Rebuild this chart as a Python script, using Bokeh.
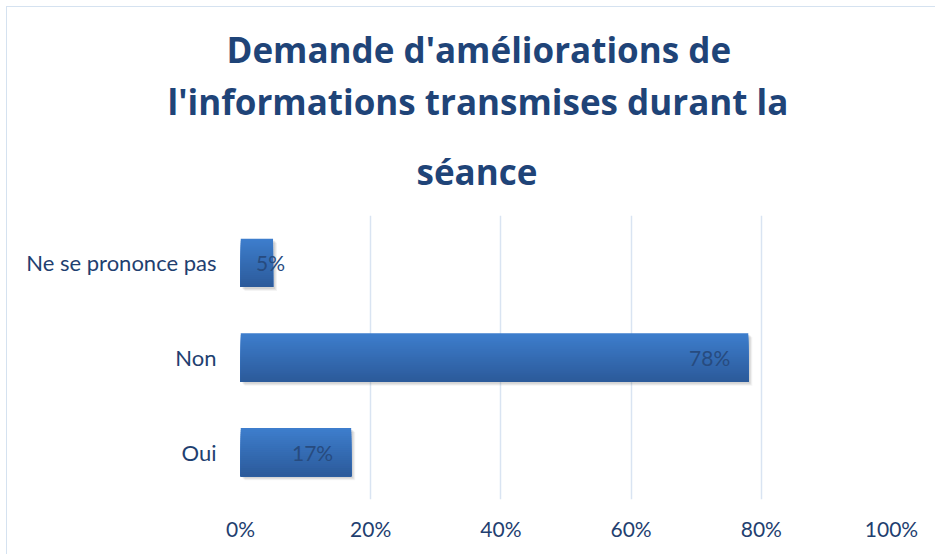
from bokeh.plotting import figure
from bokeh.models import ColumnDataSource, FactorRange, Range1d, NumeralTickFormatter, FixedTicker, Title
from bokeh.core.properties import value
from bokeh.transform import dodge
from bokeh.embed import file_html
from bokeh.resources import INLINE

categories = ["Oui", "Non", "Ne se prononce pas"]
values = [0.17, 0.78, 0.05]
labels = ["17%", "78%", "5%"]
x_ticks = [0, 0.2, 0.4, 0.6, 0.8, 1.0]
title_lines = ["Demande d'améliorations de", "l'informations transmises durant la", "séance"]

TXT = "#1f3f70"
FONT = "Lato"
BAR_H = 0.51
FRAME_H = 284.0   # px of the plot frame (3 bands)
FRAME_W = 651.0

p = figure(width=929, height=548, output_backend="svg", toolbar_location=None,
           y_range=FactorRange(*categories, range_padding=0),
           x_range=Range1d(0, 1),
           min_border_left=233, min_border_right=45, min_border_bottom=56, min_border_top=208)
p.styles = {"border-left": "1px solid #d5e2f0", "border-top": "1px solid #d5e2f0",
            "margin-left": "6px", "margin-top": "6px"}

# title lines, left aligned with offsets so that each line is centred on the chart area
standoffs = [42, 0, 6]            # nearest the plot first
offsets = [176, -73, -14]         # séance, l'informations..., Demande...
for line, so, off in zip(reversed(title_lines), standoffs, offsets):
    p.add_layout(Title(text=line, align="left", text_font="Open Sans", text_font_size="35px",
                       text_font_style="bold", text_color="#1f4478", standoff=so, offset=off),
                 "above")

band_px = FRAME_H / len(categories)
src = ColumnDataSource(dict(cat=categories, val=values, lab=labels,
                            off=[-18 if v > 0.1 else 12 for v in values]))

# soft shadow (bottom-right)
for dpx, a in [(4, 0.06), (3, 0.08), (2, 0.10)]:
    p.hbar(y=dodge("cat", -dpx / band_px, range=p.y_range), right=dodge("val", dpx / FRAME_W),
           left=dpx / FRAME_W, height=BAR_H, source=src,
           fill_color="#404040", fill_alpha=a, line_color=None)

# vertical gradient: overlapping strips, each from its top edge to the bar bottom
def hexmix(c1, c2, t_):
    a = [int(c1[i:i + 2], 16) for i in (1, 3, 5)]
    b = [int(c2[i:i + 2], 16) for i in (1, 3, 5)]
    return "#%02x%02x%02x" % tuple(round(x + (y - x) * t_) for x, y in zip(a, b))

N = 24
top_c, bot_c = "#3d7dcc", "#2c5b9b"
sh = BAR_H / N
for k in range(N):
    top = BAR_H / 2 - sh * k
    bottom = -BAR_H / 2
    p.hbar(y=dodge("cat", (top + bottom) / 2, range=p.y_range), right="val", left=0,
           height=top - bottom, source=src,
           fill_color=hexmix(top_c, bot_c, k / (N - 1)), line_color=None)

p.text(x="val", y="cat", text="lab", source=src, x_offset="off",
       text_align="right", text_baseline="middle", text_font=value(FONT),
       text_font_size="21px", text_color="#274b7f")

p.xaxis.ticker = FixedTicker(ticks=x_ticks)
p.xaxis.formatter = NumeralTickFormatter(format="0%")
for ax in (p.xaxis, p.yaxis):
    ax.axis_line_color = None
    ax.major_tick_line_color = None
    ax.minor_tick_line_color = None
    ax.major_label_text_font = FONT
    ax.major_label_text_font_size = "22px"
    ax.major_label_text_color = TXT
p.xaxis.major_label_text_font_size = "21px"
p.xaxis.major_label_standoff = 10
p.yaxis.major_label_standoff = 18

p.xgrid.ticker = FixedTicker(ticks=x_ticks)
p.xgrid.grid_line_color = "#d9e4f2"
p.xgrid.grid_line_width = 1.5
p.ygrid.grid_line_color = None
p.outline_line_color = None

open("out.html", "w").write(file_html(p, INLINE))
